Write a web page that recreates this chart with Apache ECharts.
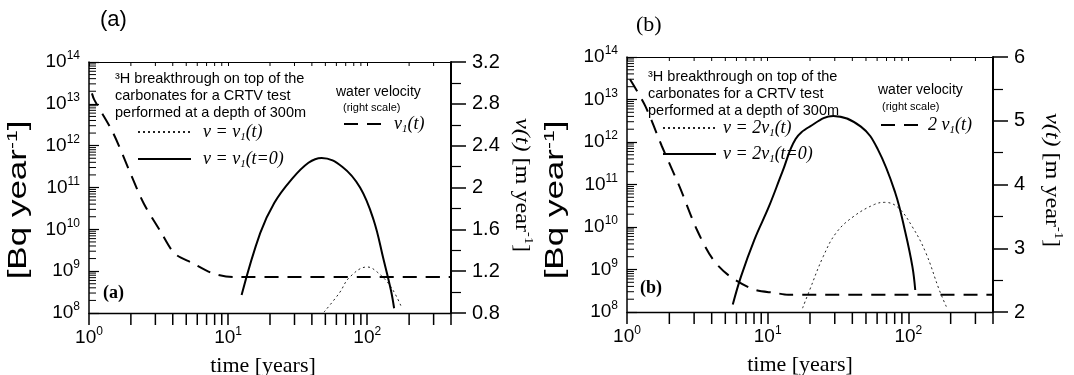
<!DOCTYPE html>
<html><head><meta charset="utf-8">
<script src="https://cdn.jsdelivr.net/npm/echarts@6/dist/echarts.min.js"></script>
<style>html,body{margin:0;padding:0;background:#fff}#c{width:1074px;height:375px}</style>
</head><body><div id="c"></div>
<script>
// ---------- data ----------
// Panel (a)
const timeDashA = [1.05, 1.09, 1.48, 1.98, 2.47, 3.3, 4.12, 5.5, 7.74, 10.9, 400];
const velDashA  = [2.9, 2.84, 2.53, 2.14, 1.85, 1.57, 1.37, 1.28, 1.18, 1.144, 1.144];
const timeSolidA = [12.5, 17, 21.5, 28.3, 37.8, 47, 66.4, 88.8, 111, 131, 148, 156];
const fluxSolidA = [2.7e8, 8.1e9, 4.3e10, 1.5e11, 3.9e11, 5.1e11, 3.1e11, 1.0e11, 1.7e10, 1.9e9, 3.5e8, 1.3e8];
const timeDotA = [48.9, 63, 74.8, 100, 118, 148, 176];
const fluxDotA = [1.05e8, 3.0e8, 7.2e8, 1.26e9, 9.5e8, 4.2e8, 1.4e8];
// Panel (b)
const timeDashB = [1.05, 1.35, 1.77, 2.36, 3.14, 4.1, 5.46, 8.04, 11.3, 14, 400];
const velDashB  = [5.65, 5.23, 4.6, 3.97, 3.29, 2.82, 2.55, 2.35, 2.30, 2.27, 2.27];
const timeSolidB = [5.65, 6.46, 8.04, 10.2, 12.7, 15.8, 19.9, 29.3, 46, 60.6, 80.6, 95.3, 107, 112];
const fluxSolidB = [1.5e8, 6.8e8, 5.0e9, 3.0e10, 1.95e11, 1.17e12, 2.3e12, 4.1e12, 2.3e12, 6.8e11, 6.5e10, 7.4e9, 1.15e9, 3.3e8];
const timeDotB = [17.7, 19.9, 24.8, 30.8, 41.1, 57.5, 67.9, 84.3, 107, 133, 166, 187];
const fluxDotB = [1.23e8, 3.3e8, 2.0e9, 7.4e9, 1.8e10, 3.4e10, 3.8e10, 2.9e10, 1.0e10, 2.5e9, 3.3e8, 1.3e8];
// axis ranges and minor tick values
const timeRange = [1, 400];
const fluxRange = [1e8, 1e14];
const velRangeA = [0.8, 3.2, 0.4];
const velRangeB = [2, 6, 1];
const xMinorTicks = [2,3,4,5,6,7,8,9,20,30,40,50,60,70,80,90,200,300];
const yMinorTicks = [2e8,3e8,4e8,5e8,6e8,7e8,8e8,9e8,
  2e9,3e9,4e9,5e9,6e9,7e9,8e9,9e9,
  2e10,3e10,4e10,5e10,6e10,7e10,8e10,9e10,
  2e11,3e11,4e11,5e11,6e11,7e11,8e11,9e11,
  2e12,3e12,4e12,5e12,6e12,7e12,8e12,9e12,
  2e13,3e13,4e13,5e13,6e13,7e13,8e13,9e13];
const legendText = {
  dotA: '{i|v = v}{s|1}{i|(t)}',
  solA: '{i|v = v}{s|1}{i|(t=0)}',
  dashA: '{i|v}{s|1}{i|(t)}',
  dotB: '{i|v = 2v}{s|1}{i|(t)}',
  solB: '{i|v = 2v}{s|1}{i|(t=0)}',
  dashB: '{i|2 v}{s|1}{i|(t)}'
};

// ---------- styling ----------
const SANS = 'Liberation Sans';
const SERIF = 'Liberation Serif';
const zip = (a, b) => a.map((v, i) => [v, b[i]]);
function supLabel(v) {
  const l = Math.log10(v), e = Math.round(l);
  if (Math.abs(l - e) > 1e-6) return '';
  return '{b|10}{s|' + e + '}';
}
const supRich = {
  b: {fontSize: 19, fontFamily: SANS, lineHeight: 24, color: '#000'},
  s: {fontSize: 12, fontFamily: SANS, lineHeight: 12, verticalAlign: 'top', color: '#000'}
};
const legRich = {
  i: {fontSize: 18, fontFamily: SERIF, fontStyle: 'italic', lineHeight: 22, color: '#000'},
  s: {fontSize: 11, fontFamily: SERIF, fontStyle: 'italic', lineHeight: 11, verticalAlign: 'bottom', color: '#000'}
};

function xBottom(gi) {
  return {type: 'log', logBase: 10, gridIndex: gi, position: 'bottom', min: timeRange[0], max: timeRange[1], interval: 1,
    axisLine: {show: true, lineStyle: {color: '#000', width: 1.3}},
    axisTick: {show: true, inside: false, length: 12, lineStyle: {color: '#000', width: 1.5}},
    axisLabel: {formatter: supLabel, rich: supRich, margin: 13},
    splitLine: {show: false}};
}
function xTop(gi) {
  return {type: 'log', logBase: 10, gridIndex: gi, position: 'top', min: timeRange[0], max: timeRange[1], interval: 1,
    axisLine: {show: true, lineStyle: {color: '#000', width: 1.2}},
    axisTick: {show: true, inside: true, length: 4, lineStyle: {color: '#000', width: 1}},
    axisLabel: {show: false}, splitLine: {show: false}};
}
function yLog(gi) {
  return {type: 'log', logBase: 10, gridIndex: gi, position: 'left', min: fluxRange[0], max: fluxRange[1], interval: 1,
    axisLine: {show: true, lineStyle: {color: '#000', width: 1.5}},
    axisTick: {show: true, inside: true, length: 10, lineStyle: {color: '#000', width: 1.2}},
    axisLabel: {formatter: supLabel, rich: supRich, margin: 9},
    splitLine: {show: false}};
}
function yVel(gi, r) {
  return {type: 'value', gridIndex: gi, position: 'right', min: r[0], max: r[1], interval: r[2],
    axisLine: {show: true, lineStyle: {color: '#000', width: 2}},
    axisTick: {show: true, inside: false, length: 15, lineStyle: {color: '#000', width: 1.5}},
    minorTick: {show: true, splitNumber: 2, length: 10, lineStyle: {color: '#000', width: 1.2}},
    axisLabel: {color: '#000', fontFamily: SANS, fontSize: 20, margin: 21},
    splitLine: {show: false}, minorSplitLine: {show: false}};
}
function tickSeries(xi, yi, data, kind) {
  return {type: 'custom', xAxisIndex: xi, yAxisIndex: yi, clip: false, silent: true, z: 5,
    data: data,
    renderItem: function (params, api) {
      if (kind === 'x') {
        const pb = api.coord([api.value(0), fluxRange[0]]);
        const pt = api.coord([api.value(0), fluxRange[1]]);
        return {type: 'group', children: [
          {type: 'line', shape: {x1: pb[0], y1: pb[1], x2: pb[0], y2: pb[1] + 12}, style: {stroke: '#000', lineWidth: 1.5}},
          {type: 'line', shape: {x1: pt[0], y1: pt[1], x2: pt[0], y2: pt[1] + 4}, style: {stroke: '#000', lineWidth: 1}}
        ]};
      }
      const p = api.coord([timeRange[0], api.value(1)]);
      return {type: 'line', shape: {x1: p[0], y1: p[1], x2: p[0] + 7, y2: p[1]}, style: {stroke: '#000', lineWidth: 1}};
    }};
}
function lineSeries(name, xi, yi, data, kind) {
  const ls = kind === 'solid' ? {color: '#000', width: 2, type: 'solid'}
    : kind === 'dash' ? {color: '#000', width: 2, type: [14, 9]}
    : {color: '#222', width: 1, type: [2, 3]};
  return {name: name, type: 'line', xAxisIndex: xi, yAxisIndex: yi, data: data, symbol: 'none', showSymbol: false,
    smooth: kind === 'dash' ? 0.3 : 0.4, lineStyle: ls, color: '#000', z: 3, silent: true};
}
function legend(names, left, top, w, gap, pad) {
  return {data: names, orient: 'vertical', left: left, top: top, itemWidth: w, itemHeight: 22, itemGap: gap,
    padding: 0, selectedMode: false, formatter: n => legendText[n],
    itemStyle: {opacity: 0, borderWidth: 0},
    textStyle: {rich: legRich, padding: [0, 0, 0, pad]}};
}
function txt(x, y, text, font, opt) {
  return Object.assign({type: 'text', x: x, y: y, silent: true,
    style: Object.assign({text: text, font: font, fill: '#000', align: 'left', verticalAlign: 'middle'}, opt || {})});
}

const xMinorData = xMinorTicks.map(v => [v, fluxRange[0]]);
const yMinorData = yMinorTicks.map(v => [timeRange[0], v]);

const option = {
  animation: false,
  backgroundColor: '#fff',
  grid: [
    {left: 89, right: 623, top: 62, bottom: 62},
    {left: 627, right: 81, top: 57, bottom: 63}
  ],
  xAxis: [xBottom(0), xTop(0), xBottom(1), xTop(1)],
  yAxis: [yLog(0), yVel(0, velRangeA), yLog(1), yVel(1, velRangeB)],
  legend: [
    legend(['dotA', 'solA'], 137, 123, 53, 7, 7),
    legend(['dashA'], 343, 115, 37, 0, 8),
    legend(['dotB', 'solB'], 662, 119, 53, 6, 2),
    legend(['dashB'], 880, 116, 37, 0, 5)
  ],
  series: [
    lineSeries('dashA', 0, 1, zip(timeDashA, velDashA), 'dash'),
    lineSeries('dotA', 0, 0, zip(timeDotA, fluxDotA), 'dot'),
    lineSeries('solA', 0, 0, zip(timeSolidA, fluxSolidA), 'solid'),
    lineSeries('dashB', 2, 3, zip(timeDashB, velDashB), 'dash'),
    lineSeries('dotB', 2, 2, zip(timeDotB, fluxDotB), 'dot'),
    lineSeries('solB', 2, 2, zip(timeSolidB, fluxSolidB), 'solid'),
    tickSeries(0, 0, xMinorData, 'x'),
    tickSeries(0, 0, yMinorData, 'y'),
    tickSeries(2, 2, xMinorData, 'x'),
    tickSeries(2, 2, yMinorData, 'y')
  ],
  graphic: [
    txt(100, 20, '(a)', '22px ' + SANS),
    txt(636, 25, '(b)', '22px ' + SERIF),
    txt(115, 79, '³H breakthrough on top of the', '14.5px ' + SANS),
    txt(115, 96, 'carbonates for a CRTV test', '14.5px ' + SANS),
    txt(115, 113, 'performed at a depth of 300m', '14.5px ' + SANS),
    txt(648, 77, '³H breakthrough on top of the', '14.5px ' + SANS),
    txt(648, 94, 'carbonates for a CRTV test', '14.5px ' + SANS),
    txt(648, 111, 'performed at a depth of 300m', '14.5px ' + SANS),
    txt(336, 92, 'water velocity', '14px ' + SANS),
    txt(343, 108, '(right scale)', '11px ' + SANS),
    txt(878, 90, 'water velocity', '14px ' + SANS),
    txt(882, 107, '(right scale)', '11px ' + SANS),
    txt(103, 293, '(a)', 'bold 18px ' + SERIF),
    txt(640, 288, '(b)', 'bold 18px ' + SERIF),
    txt(263, 366, 'time [years]', '22px ' + SERIF, {align: 'center'}),
    txt(800, 365, 'time [years]', '22px ' + SERIF, {align: 'center'}),
    {type: 'text', x: 19, y: 200, rotation: Math.PI / 2, scaleX: 1.4, silent: true,
      style: {text: '{n|[Bq year}{s|-1}{n|]}', align: 'center', verticalAlign: 'middle',
        rich: {n: {fontSize: 25, fontFamily: SANS, lineHeight: 28, fill: '#000'}, s: {fontSize: 15, fontFamily: SANS, lineHeight: 15, verticalAlign: 'top', fill: '#000'}}}},
    {type: 'text', x: 556, y: 200, rotation: Math.PI / 2, scaleX: 1.4, silent: true,
      style: {text: '{n|[Bq year}{s|-1}{n|]}', align: 'center', verticalAlign: 'middle',
        rich: {n: {fontSize: 25, fontFamily: SANS, lineHeight: 28, fill: '#000'}, s: {fontSize: 15, fontFamily: SANS, lineHeight: 15, verticalAlign: 'top', fill: '#000'}}}},
    {type: 'text', x: 522, y: 185, rotation: -Math.PI / 2, scaleX: 1.1, silent: true,
      style: {text: '{i|v(t)}{n| [m year}{s|-1}{n|]}', align: 'center', verticalAlign: 'middle',
        rich: {i: {fontSize: 22, fontFamily: SERIF, fontStyle: 'italic', lineHeight: 26, fill: '#000'},
               n: {fontSize: 22, fontFamily: SERIF, lineHeight: 26, fill: '#000'},
               s: {fontSize: 13, fontFamily: SERIF, lineHeight: 13, verticalAlign: 'top', fill: '#000'}}}},
    {type: 'text', x: 1052, y: 180, rotation: -Math.PI / 2, scaleX: 1.1, silent: true,
      style: {text: '{i|v(t)}{n| [m year}{s|-1}{n|]}', align: 'center', verticalAlign: 'middle',
        rich: {i: {fontSize: 22, fontFamily: SERIF, fontStyle: 'italic', lineHeight: 26, fill: '#000'},
               n: {fontSize: 22, fontFamily: SERIF, lineHeight: 26, fill: '#000'},
               s: {fontSize: 13, fontFamily: SERIF, lineHeight: 13, verticalAlign: 'top', fill: '#000'}}}}
  ]
};
const chart = echarts.init(document.getElementById('c'), null, {renderer: 'canvas'});
chart.setOption(option);
</script>
</body></html>
